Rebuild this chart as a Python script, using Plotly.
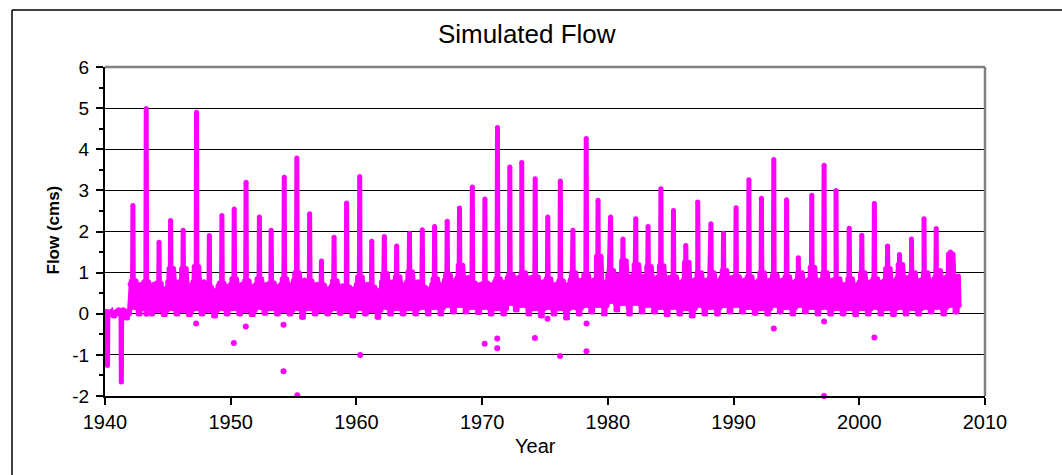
import plotly.graph_objects as go

# ---------------- data ----------------
years = list(range(1940, 2008))

# annual spike (cms); 1940 and 1941 are downward dips
peak_flow = [-1.26, -1.66, 2.63, 4.99, 1.74, 2.27, 2.03, 4.90, 1.90, 2.39,
             2.55, 3.20, 2.35, 2.03, 3.32, 3.79, 2.43, 1.28, 1.86, 2.69,
             3.34, 1.76, 1.88, 1.65, 1.96, 2.04, 2.12, 2.25, 2.57, 3.08,
             2.79, 4.53, 3.57, 3.68, 3.28, 2.35, 3.23, 2.03, 4.26, 2.76,
             2.35, 1.82, 2.31, 2.12, 3.04, 2.51, 1.66, 2.72, 2.19, 1.96,
             2.58, 3.26, 2.81, 3.75, 2.77, 1.36, 2.88, 3.61, 3.00, 2.08,
             1.91, 2.68, 1.65, 1.44, 1.82, 2.31, 2.07, 1.50]

# time of the spike within the year (fraction of year)
peak_time = [0.20, 0.30, 0.22, 0.28, 0.30, 0.22, 0.22, 0.28, 0.30, 0.30,
             0.28, 0.22, 0.28, 0.22, 0.26, 0.26, 0.28, 0.22, 0.22, 0.22,
             0.26, 0.22, 0.22, 0.20, 0.22, 0.24, 0.22, 0.22, 0.20, 0.22,
             0.22, 0.22, 0.20, 0.15, 0.22, 0.22, 0.22, 0.22, 0.28, 0.22,
             0.22, 0.20, 0.22, 0.20, 0.22, 0.22, 0.20, 0.15, 0.20, 0.20,
             0.20, 0.22, 0.22, 0.20, 0.22, 0.15, 0.22, 0.20, 0.15, 0.20,
             0.20, 0.20, 0.25, 0.20, 0.15, 0.15, 0.12, 0.25]

# secondary high of the year (cms)
upper_flow = [0.05, 0.10, 0.80, 0.78, 0.75, 1.10, 1.10, 1.15, 0.65, 0.75,
              0.85, 0.80, 0.85, 0.75, 0.85, 1.00, 0.80, 0.70, 0.80, 0.65,
              0.90, 0.65, 0.98, 0.90, 1.02, 0.65, 0.85, 0.95, 1.18, 0.75,
              0.75, 0.85, 0.95, 1.00, 0.90, 0.85, 0.80, 1.00, 0.95, 1.40,
              1.05, 1.29, 1.20, 1.15, 1.17, 0.90, 1.25, 1.00, 1.00, 1.05,
              0.90, 0.90, 1.00, 0.94, 0.90, 1.00, 1.13, 1.00, 0.85, 0.85,
              1.00, 0.85, 1.10, 1.20, 1.00, 1.00, 1.05, 1.45]

# annual minimum (cms)
low_flow = [-0.05, -0.10, 0.00, 0.00, -0.02, 0.00, -0.02, 0.00, -0.05, 0.00,
            0.00, -0.02, 0.02, 0.00, 0.00, -0.08, 0.00, 0.00, 0.02, -0.05,
            0.00, -0.08, 0.00, 0.00, 0.00, 0.00, 0.00, 0.05, 0.05, 0.03,
            0.00, 0.00, 0.10, 0.00, -0.05, 0.00, -0.10, 0.00, 0.05, 0.00,
            0.10, 0.00, 0.05, 0.05, -0.02, 0.00, -0.05, 0.00, 0.00, 0.05,
            0.05, 0.02, 0.00, 0.05, 0.00, 0.05, 0.00, 0.00, 0.00, -0.02,
            0.00, 0.00, -0.02, 0.00, 0.00, 0.05, 0.00, 0.05]

# typical lower / upper edge of the everyday flow band (cms)
band_lo = [0.00, 0.00, 0.15, 0.12, 0.08, 0.12, 0.08, 0.12, 0.08, 0.12,
           0.12, 0.08, 0.15, 0.12, 0.08, 0.12, 0.12, 0.08, 0.12, 0.08,
           0.12, 0.08, 0.15, 0.12, 0.12, 0.15, 0.15, 0.20, 0.20, 0.15,
           0.15, 0.12, 0.25, 0.20, 0.12, 0.15, 0.12, 0.15, 0.20, 0.20,
           0.30, 0.25, 0.25, 0.20, 0.15, 0.15, 0.12, 0.20, 0.15, 0.20,
           0.20, 0.15, 0.12, 0.20, 0.15, 0.20, 0.15, 0.15, 0.12, 0.12,
           0.12, 0.15, 0.12, 0.15, 0.12, 0.15, 0.15, 0.20]
band_hi = [0.05, 0.08, 0.72, 0.72, 0.62, 0.78, 0.72, 0.78, 0.58, 0.68,
           0.72, 0.68, 0.72, 0.68, 0.72, 0.82, 0.72, 0.62, 0.68, 0.62,
           0.72, 0.58, 0.78, 0.72, 0.78, 0.62, 0.72, 0.82, 0.88, 0.72,
           0.72, 0.78, 0.88, 0.88, 0.78, 0.72, 0.72, 0.82, 0.82, 0.78,
           0.95, 0.92, 0.92, 0.88, 0.88, 0.78, 0.82, 0.82, 0.82, 0.88,
           0.82, 0.78, 0.82, 0.82, 0.78, 0.82, 0.82, 0.82, 0.72, 0.72,
           0.78, 0.78, 0.82, 0.88, 0.82, 0.82, 0.88, 0.92]

# isolated points away from the band
outlier_year = [1943.28, 1947.25, 1950.25, 1951.20, 1954.20, 1954.20, 1955.30,
                1960.30, 1970.20, 1971.20, 1971.20, 1974.20, 1975.20, 1976.20,
                1978.30, 1978.30, 1993.20, 1997.20, 1997.20, 2001.20]
outlier_flow = [0.00, -0.24, -0.71, -0.31, -0.27, -1.40, -1.98,
                -1.00, -0.73, -0.60, -0.84, -0.59, -0.12, -1.03,
                -0.24, -0.91, -0.36, -0.19, -2.00, -0.58]

x_ticks = [1940, 1950, 1960, 1970, 1980, 1990, 2000, 2010]
y_ticks = [-2, -1, 0, 1, 2, 3, 4, 5, 6]

# ---------------- build the time series from the yearly readings ----------------
xs, ys = [], []
for i, yr in enumerate(years):
    pt = peak_time[i]
    hi, lo, up, mn, pk = band_hi[i], band_lo[i], upper_flow[i], low_flow[i], peak_flow[i]
    pts = [(0.00, hi), (0.05, lo), (0.10, up), (0.15, lo),
           (pt - 0.03, hi), (pt, pk), (pt + 0.03, hi),
           (0.38, lo), (0.45, up), (0.52, hi), (0.58, lo),
           (0.63, mn), (0.70, mn), (0.77, mn), (0.82, lo), (0.88, hi), (0.94, lo)]
    pts.sort(key=lambda p: p[0])
    for off, v in pts:
        xs.append(yr + off)
        ys.append(v)

MAG = "#FF00FF"
FONT = "Liberation Sans, Arial, sans-serif"

fig = go.Figure()
fig.add_trace(go.Scatter(x=xs, y=ys, mode="lines+markers",
                         line=dict(color=MAG, width=5),
                         marker=dict(color=MAG, size=5),
                         hoverinfo="skip", showlegend=False))
fig.add_trace(go.Scatter(x=outlier_year, y=outlier_flow, mode="markers",
                         marker=dict(color=MAG, size=6),
                         cliponaxis=False, showlegend=False))

fig.update_layout(
    width=1062, height=475,
    margin=dict(l=105, r=77, t=67, b=79),
    paper_bgcolor="white", plot_bgcolor="white",
    font=dict(family=FONT, color="black", size=19),
    title=dict(text="Simulated Flow", x=0.496, xref="container", xanchor="center",
               y=1 - 34 / 475, yref="container", yanchor="middle",
               font=dict(family=FONT, size=26, color="black")),
    showlegend=False,
)
fig.update_xaxes(range=[1940, 2010], tickvals=x_ticks, ticktext=[str(v) for v in x_ticks],
                 ticks="outside", ticklen=7, tickwidth=1.5, tickcolor="black",
                 showline=True, linecolor="black", linewidth=2,
                 showgrid=False, zeroline=False,
                 tickfont=dict(family=FONT, size=20, color="black"))
fig.update_yaxes(range=[-2, 6], tickvals=y_ticks, ticktext=[str(v) for v in y_ticks],
                 ticks="outside", ticklen=7, tickwidth=1.5, tickcolor="black",
                 minor=dict(tickvals=[v + 0.5 for v in y_ticks[:-1]], ticks="outside",
                            ticklen=4, tickwidth=1.5, tickcolor="black", showgrid=False),
                 showline=True, linecolor="black", linewidth=2,
                 showgrid=True, gridcolor="black", gridwidth=1.3, zeroline=False,
                 ticklabelstandoff=3,
                 tickfont=dict(family=FONT, size=19, color="black"))

# plot-area border (grey top and right), outer chart border (top and left)
fig.add_shape(type="line", xref="paper", yref="paper", x0=0, x1=1, y0=1, y1=1,
              line=dict(color="#808080", width=2.5))
fig.add_shape(type="line", xref="paper", yref="paper", x0=1, x1=1, y0=0, y1=1,
              line=dict(color="#808080", width=2.5))
fig.add_shape(type="line", xref="paper", yref="paper",
              x0=(12 - 105) / 880, x1=(1064 - 105) / 880,
              y0=1 + (67 - 10) / 329, y1=1 + (67 - 10) / 329,
              line=dict(color="black", width=1.5))
fig.add_shape(type="line", xref="paper", yref="paper",
              x0=(12 - 105) / 880, x1=(12 - 105) / 880,
              y0=1 + (67 - 10) / 329, y1=(396 - 478) / 329,
              line=dict(color="black", width=1.5))

fig.add_annotation(text="<b>Flow (cms)</b>", textangle=-90, xref="paper", yref="paper",
                   x=(53 - 105) / 880, y=(396 - 230.5) / 329, xanchor="center", yanchor="middle",
                   showarrow=False, font=dict(family=FONT, size=17, color="black"))
fig.add_annotation(text="Year", xref="paper", yref="paper",
                   x=(535 - 105) / 880, y=(396 - 446) / 329, xanchor="center", yanchor="middle",
                   showarrow=False, font=dict(family=FONT, size=20, color="black"))

fig.write_html("out.html")
